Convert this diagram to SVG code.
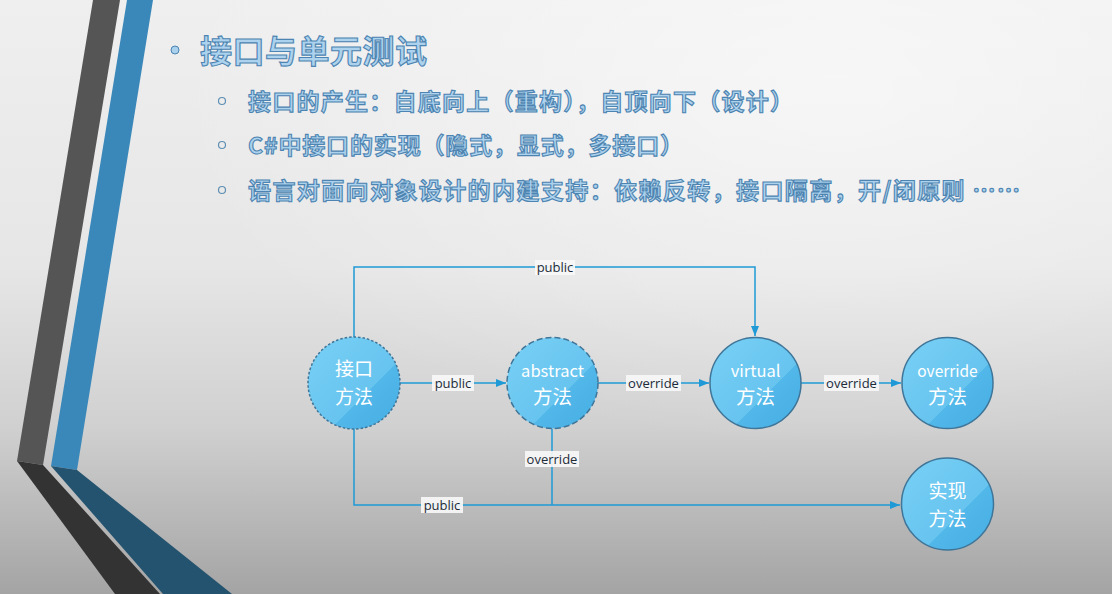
<svg xmlns="http://www.w3.org/2000/svg" width="1112" height="594" viewBox="0 0 1112 594">
  <defs>
    <linearGradient id="bg" x1="0" y1="0" x2="0" y2="1">
      <stop offset="0" stop-color="#efefef"/>
      <stop offset="0.45" stop-color="#e6e6e6"/>
      <stop offset="0.72" stop-color="#d0d0d0"/>
      <stop offset="1" stop-color="#a4a4a4"/>
    </linearGradient>
    <radialGradient id="glow" cx="0.75" cy="0.15" r="0.6">
      <stop offset="0" stop-color="#ffffff" stop-opacity="0.55"/>
      <stop offset="1" stop-color="#ffffff" stop-opacity="0"/>
    </radialGradient>
    <linearGradient id="ball" x1="0" y1="0" x2="1" y2="1">
      <stop offset="0" stop-color="#78d0f5"/>
      <stop offset="0.62" stop-color="#67c4ef"/>
      <stop offset="0.62" stop-color="#52b7e9"/>
      <stop offset="1" stop-color="#46aee4"/>
    </linearGradient>
    <linearGradient id="ballDim" x1="0" y1="0" x2="1" y2="1">
      <stop offset="0" stop-color="#64b8e0"/>
      <stop offset="0.62" stop-color="#56acd8"/>
      <stop offset="0.62" stop-color="#47a0cf"/>
      <stop offset="1" stop-color="#3e98c8"/>
    </linearGradient>
    <marker id="arrow" viewBox="0 0 10 10" refX="10" refY="5" markerWidth="10" markerHeight="10" markerUnits="userSpaceOnUse" orient="auto">
      <path d="M0,1 L10,5 L0,9 Z" fill="#1f9ad6"/>
    </marker>
    <style>
      .head { font-family: "Noto Sans CJK SC", "Noto Sans", sans-serif; font-weight: 700; fill: #acd2ee; stroke: #4d84b1; stroke-width: 1.1; }
      .dot { fill: #a9d0ec; stroke: #4d84b1; stroke-width: 1; }
      .ring { fill: none; stroke: #5f8fb3; stroke-width: 1.2; }
      .node { fill: url(#ball); stroke: #3f7598; stroke-width: 1.5; }
      .ntext { font-family: "Noto Sans CJK SC", "Noto Sans", sans-serif; fill: #ffffff; text-anchor: middle; }
      .edge { fill: none; stroke: #1f9ad6; stroke-width: 1.5; }
      .lblbg { fill: #f7f7f7; opacity: 0.92; }
      .lbl { font-family: "Open Sans", "Noto Sans", sans-serif; font-size: 13px; fill: #1d2b38; text-anchor: middle; }
    </style>
  </defs>

  <!-- backdrop -->
  <rect width="1112" height="594" fill="url(#bg)"/>
  <rect width="1112" height="594" fill="url(#glow)"/>

  <!-- folded ribbons on the left -->
  <g id="ribbons">
    <polygon points="93,0 120,0 43,465 17,461" fill="#555555"/>
    <polygon points="17,461 43,465 160,594 115,594" fill="#333333"/>
    <polygon points="127,0 153,0 77,470 51,466" fill="#3a88ba"/>
    <polygon points="51,466 77,470 232,594 163,594" fill="#24536f"/>
  </g>

  <!-- heading and bullet list -->
  <g id="bullets">
    <circle class="dot" cx="175" cy="50" r="4"/>
    <text class="head" x="200" y="63" font-size="32" textLength="227">接口与单元测试</text>

    <circle class="ring" cx="222" cy="101" r="3.5"/>
    <text class="head" x="248" y="110" font-size="23" textLength="545">接口的产生：自底向上（重构），自顶向下（设计）</text>

    <circle class="ring" cx="222" cy="145" r="3.5"/>
    <text class="head" x="248" y="154" font-size="23" textLength="435">C#中接口的实现（隐式，显式，多接口）</text>

    <circle class="ring" cx="222" cy="190" r="3.5"/>
    <text class="head" x="248" y="199" font-size="23" textLength="772">语言对面向对象设计的内建支持：依赖反转，接口隔离，开/闭原则 ……</text>
  </g>

  <!-- connectors -->
  <g id="connectors">
    <path class="edge" d="M354,337 V267 H755 V336" marker-end="url(#arrow)"/>
    <path class="edge" d="M400,383 H506" marker-end="url(#arrow)"/>
    <path class="edge" d="M598,383 H709" marker-end="url(#arrow)"/>
    <path class="edge" d="M801,383 H901" marker-end="url(#arrow)"/>
    <path class="edge" d="M354,429 V505 H900" marker-end="url(#arrow)"/>
    <path class="edge" d="M552,429 V505"/>

    <rect class="lblbg" x="535" y="260" width="40" height="15"/>
    <text class="lbl" x="555" y="272">public</text>
    <rect class="lblbg" x="432" y="375" width="42" height="16"/>
    <text class="lbl" x="453" y="388">public</text>
    <rect class="lblbg" x="626" y="375" width="55" height="16"/>
    <text class="lbl" x="653.5" y="388">override</text>
    <rect class="lblbg" x="824" y="375" width="55" height="16"/>
    <text class="lbl" x="851.5" y="388">override</text>
    <rect class="lblbg" x="525" y="451" width="54" height="16"/>
    <text class="lbl" x="552" y="464">override</text>
    <rect class="lblbg" x="421" y="497" width="42" height="16"/>
    <text class="lbl" x="442" y="510">public</text>
  </g>

  <!-- nodes -->
  <g id="node-interface">
    <circle class="node" cx="354" cy="383" r="46" stroke="#4a5f70" stroke-dasharray="2.5,2"/>
    <text class="ntext" font-size="19"><tspan x="354" y="376">接口</tspan><tspan x="354" y="404">方法</tspan></text>
  </g>
  <g id="node-abstract">
    <circle class="node" cx="552.5" cy="383" r="45.5" stroke="#4b5c68" stroke-dasharray="6,3"/>
    <text class="ntext" font-size="19.5"><tspan x="552.5" y="377" font-size="16.5">abstract</tspan><tspan x="552.5" y="404">方法</tspan></text>
  </g>
  <g id="node-virtual">
    <circle class="node" cx="755.5" cy="383" r="45.5"/>
    <text class="ntext" font-size="19.5"><tspan x="755.5" y="377" font-size="16.5">virtual</tspan><tspan x="755.5" y="404">方法</tspan></text>
  </g>
  <g id="node-override">
    <circle class="node" cx="947.5" cy="383" r="45.5"/>
    <text class="ntext" font-size="19.5"><tspan x="947.5" y="377" font-size="15.5">override</tspan><tspan x="947.5" y="404">方法</tspan></text>
  </g>
  <g id="node-implement">
    <circle class="node" cx="947.5" cy="504" r="46" fill="url(#ballDim)" stroke="#3b6886"/>
    <text class="ntext" font-size="19" fill="#d6edf8"><tspan x="947.5" y="498">实现</tspan><tspan x="947.5" y="526">方法</tspan></text>
  </g>
</svg>
